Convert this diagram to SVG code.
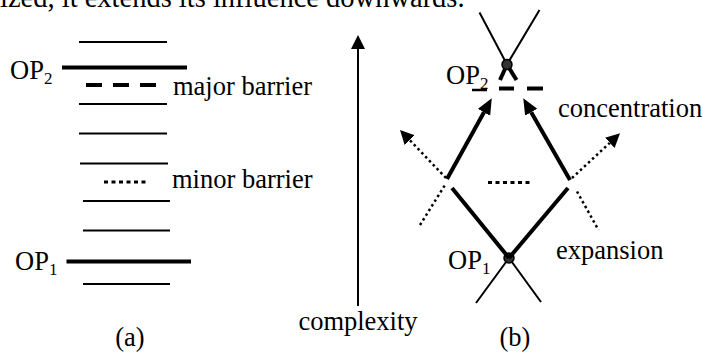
<svg xmlns="http://www.w3.org/2000/svg" width="703" height="356" viewBox="0 0 703 356">
<style>
text{font-family:"Liberation Serif","Times New Roman",serif;font-size:26.5px;fill:#000}
.sub{font-size:17px}
.thin{stroke:#000;stroke-width:2;fill:none}
.thick{stroke:#000;stroke-width:4;fill:none}
.dash{stroke:#000;stroke-width:4;fill:none;stroke-dasharray:16 11}
.dots{stroke:#000;stroke-width:3;fill:none;stroke-dasharray:4 3.5}
.dotline{stroke:#000;stroke-width:2.5;fill:none;stroke-dasharray:2.5 3}
.node{fill:#333;stroke:#000;stroke-width:1.5}
</style>
<defs>
<marker id="ah" markerUnits="userSpaceOnUse" markerWidth="20" markerHeight="20" refX="0" refY="7" orient="auto" viewBox="0 0 20 20">
<path d="M0,0 L16,7 L0,14 Z" fill="#000"/>
</marker>
<marker id="ahs" markerUnits="userSpaceOnUse" markerWidth="20" markerHeight="20" refX="0" refY="7" orient="auto" viewBox="0 0 20 20">
<path d="M0,0 L14,7 L0,14 Z" fill="#000"/>
</marker>
</defs>
<text x="0" y="6.5" style="font-size:28.5px">ized, it extends its influence downwards.</text>
<g id="panel-a">
<g id="levels">
<line class="thin" x1="79" y1="42" x2="167" y2="42"/>
<line class="thin" x1="79" y1="104" x2="167" y2="104"/>
<line class="thin" x1="79" y1="133.5" x2="167" y2="133.5"/>
<line class="thin" x1="80" y1="163.5" x2="168" y2="163.5"/>
<line class="thin" x1="83" y1="201" x2="170" y2="201"/>
<line class="thin" x1="83" y1="230.5" x2="170" y2="230.5"/>
<line class="thin" x1="83" y1="284" x2="170" y2="284"/>
</g>
<g id="op2-a">
<line class="thick" x1="62" y1="67.5" x2="187" y2="67.5"/>
<text x="10" y="79">OP<tspan class="sub" dy="5">2</tspan></text>
</g>
<g id="major-barrier-a">
<line class="dash" x1="86" y1="85" x2="157" y2="85"/>
<text x="173" y="95">major barrier</text>
</g>
<g id="minor-barrier-a">
<line class="dots" x1="104" y1="182" x2="147" y2="182"/>
<text x="172" y="188">minor barrier</text>
</g>
<g id="op1-a">
<line class="thick" x1="66.5" y1="261.5" x2="191" y2="261.5"/>
<text x="15" y="270">OP<tspan class="sub" dy="5">1</tspan></text>
</g>
<text x="130" y="346" text-anchor="middle">(a)</text>
</g>
<g id="complexity">
<line class="thin" x1="358" y1="306" x2="358" y2="49" marker-end="url(#ahs)"/>
<text x="358" y="330" text-anchor="middle">complexity</text>
</g>
<g id="panel-b">
<g id="op2-b">
<line class="thin" x1="479.5" y1="12.5" x2="507" y2="64.5"/>
<line class="thin" x1="539.5" y1="10" x2="507" y2="64.5"/>
<line class="thick" x1="507" y1="64.5" x2="516.5" y2="80"/>
<line class="thick" x1="507" y1="64.5" x2="500" y2="80"/>
<circle class="node" cx="507" cy="64.5" r="5"/>
<text x="446" y="84">OP<tspan class="sub" dy="5">2</tspan></text>
</g>
<g id="major-barrier-b">
<line stroke="#000" stroke-width="2.5" x1="472" y1="90" x2="487" y2="90"/>
<line stroke="#000" stroke-width="4" x1="499" y1="88.5" x2="514" y2="88.5"/>
<line stroke="#000" stroke-width="4" x1="527" y1="88.5" x2="543" y2="88.5"/>
</g>
<g id="minor-barrier-b">
<line class="dots" x1="488" y1="182.5" x2="530" y2="182.5"/>
</g>
<g id="op1-b">
<line class="thin" x1="509" y1="258" x2="476" y2="303"/>
<line class="thin" x1="509" y1="258" x2="541" y2="302"/>
<circle class="node" cx="509" cy="258" r="5"/>
<text x="448" y="269">OP<tspan class="sub" dy="5">1</tspan></text>
</g>
<text x="515" y="346" text-anchor="middle">(b)</text>
<text x="558" y="117">concentration</text>
<text x="556" y="259">expansion</text>
</g>
<g id="connectors">
<line class="thick" x1="509" y1="258" x2="452" y2="188"/>
<line class="thick" x1="509" y1="258" x2="568" y2="188"/>
<line class="thick" x1="447" y1="179" x2="484" y2="112.3" marker-end="url(#ah)"/>
<line class="thick" x1="570" y1="180" x2="531.2" y2="112.2" marker-end="url(#ah)"/>
<line class="dotline" x1="446" y1="178" x2="409.7" y2="140.1" marker-end="url(#ahs)"/>
<line class="dotline" x1="572" y1="178" x2="609.8" y2="142.8" marker-end="url(#ahs)"/>
<line class="dotline" x1="420" y1="225" x2="445" y2="185"/>
<line class="dotline" x1="577" y1="191.5" x2="598.5" y2="230"/>
</g>
</svg>
